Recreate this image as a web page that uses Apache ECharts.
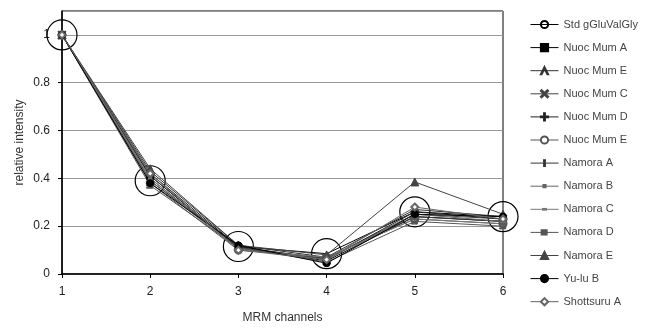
<!DOCTYPE html>
<html><head><meta charset="utf-8">
<script src="https://cdn.jsdelivr.net/npm/echarts@6/dist/echarts.min.js"></script>
<style>html,body{margin:0;padding:0;background:#fff}#c{width:654px;height:329px}</style>
</head><body><div id="c"></div>
<script>
const categories = ['1','2','3','4','5','6'];
const seriesNames = ['Std gGluValGly','Nuoc Mum A','Nuoc Mum E','Nuoc Mum C','Nuoc Mum D','Nuoc Mum E ','Namora A','Namora B','Namora C','Namora D','Namora E','Yu-lu B','Shottsuru A'];
const stdGluValGly = [1, 0.39, 0.115, 0.085, 0.26, 0.24];
const nuocMumA   = [1, 0.41, 0.11, 0.055, 0.24, 0.22];
const nuocMumE   = [1, 0.43, 0.12, 0.07, 0.27, 0.24];
const nuocMumC   = [1, 0.40, 0.11, 0.065, 0.25, 0.23];
const nuocMumD   = [1, 0.42, 0.115, 0.06, 0.26, 0.23];
const nuocMumE2  = [1, 0.38, 0.10, 0.07, 0.23, 0.21];
const namoraA    = [1, 0.41, 0.11, 0.065, 0.24, 0.22];
const namoraB    = [1, 0.39, 0.105, 0.06, 0.25, 0.22];
const namoraC    = [1, 0.40, 0.10, 0.07, 0.23, 0.21];
const namoraD    = [1, 0.37, 0.11, 0.05, 0.22, 0.20];
const namoraE    = [1, 0.44, 0.12, 0.08, 0.385, 0.25];
const yuluB      = [1, 0.38, 0.12, 0.045, 0.25, 0.24];
const shottsuruA = [1, 0.42, 0.10, 0.06, 0.28, 0.23];
const yTicks = [0, 0.2, 0.4, 0.6, 0.8, 1];

const values = [stdGluValGly, nuocMumA, nuocMumE, nuocMumC, nuocMumD, nuocMumE2, namoraA, namoraB, namoraC, namoraD, namoraE, yuluB, shottsuruA];
const box = 'M0,0L0,0M10,10L10,10';
const symbols = [
  'circle','rect','path://M5,0L10,10L9,10L5,2L1,10L0,10Z',
  'path://M0,1L1,0L5,4L9,0L10,1L6,5L10,9L9,10L5,6L1,10L0,9L4,5Z',
  'path://M4.4,0H5.6V4.4H10V5.6H5.6V10H4.4V5.6H0V4.4H4.4Z',
  'emptyCircle',
  'path://M4.4,1H5.6V9H4.4Z' + box,
  'path://M3.5,3.5H6.5V6.5H3.5Z' + box,
  'path://M3,4.5H7V5.5H3Z' + box,
  'path://M1,2H8V8H1V7H7V5.5H1V4.5H7V3H1Z' + box,
  'triangle','circle','emptyDiamond'
];
const sizes = [30,7,8,8,8,7,9,9,9,9,8,7,7];
const colors = ['#000','#000','#333','#444','#222','#555','#333','#666','#777','#555','#444','#000','#666'];

const series = seriesNames.map((n,i)=>({
  name:n, type:'line', data:values[i], symbol:symbols[i], symbolSize:sizes[i],
  showAllSymbol:true, animation:false, z: i===0?1:2,
  lineStyle:{width:1,color:colors[i]},
  itemStyle: i===0
    ? {color:'rgba(0,0,0,0)', borderColor:'#000', borderWidth:1.2}
    : {color:colors[i], borderColor:colors[i], borderWidth:1}
}));

const chart = echarts.init(document.getElementById('c'), null, {renderer:'canvas'});
chart.setOption({
  backgroundColor:'#fff',
  animation:false,
  textStyle:{fontFamily:'Liberation Sans'},
  grid:{left:62,right:151,top:11,bottom:55,show:true,borderColor:'#000',borderWidth:1},
  legend:{
    orient:'vertical', left:525, top:14, itemWidth:28, itemHeight:9, itemGap:12.1,
    data:seriesNames,
    lineStyle:{width:1},
    textStyle:{fontSize:11,color:'#444',fontFamily:'Liberation Sans'}
  },
  xAxis:{
    type:'category', data:categories, boundaryGap:false,
    name:'MRM channels', nameLocation:'middle', nameGap:38, nameMoveOverlap:false,
    nameTextStyle:{fontSize:12,color:'#333'},
    axisLine:{lineStyle:{color:'#000',width:1.5}},
    axisTick:{show:true,length:4,lineStyle:{color:'#000'}},
    axisLabel:{fontSize:12,color:'#222',margin:12},
    splitLine:{show:false}
  },
  yAxis:{
    type:'value', min:0, max:1.1, interval:0.2,
    name:'relative intensity', nameLocation:'middle', nameGap:36, nameRotate:90, nameMoveOverlap:false,
    nameTextStyle:{fontSize:12,color:'#333'},
    axisLine:{show:true,lineStyle:{color:'#000',width:1.5}},
    axisTick:{show:true,length:4,lineStyle:{color:'#000'}},
    axisLabel:{fontSize:12,color:'#222',margin:12,showMaxLabel:false,
      formatter:v=>yTicks.some(t=>Math.abs(t-v)<1e-9)?String(+v.toFixed(1)):''},
    splitLine:{show:true,lineStyle:{color:'#999',width:1}}
  },
  series:series
});
</script></body></html>
